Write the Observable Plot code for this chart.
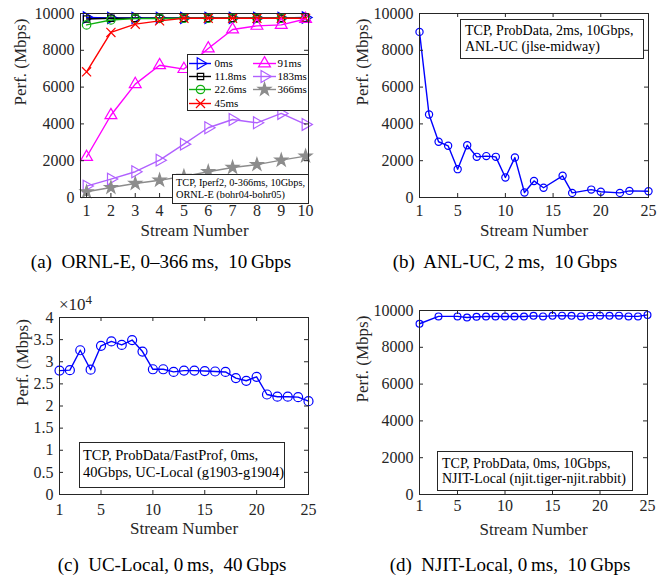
<!DOCTYPE html>
<html><head><meta charset="utf-8">
<script src="https://cdn.jsdelivr.net/npm/d3@7"></script>
<script src="https://cdn.jsdelivr.net/npm/@observablehq/plot@0.6"></script>
<style>
body{margin:0;background:#fff;}
#fig{position:relative;width:667px;height:579px;font-family:"Liberation Serif",serif;overflow:hidden;background:#fff}
#fig svg, #fig svg text{font-family:"Liberation Serif",serif !important;}
.box{position:absolute;border:1px solid #262626;background:#fff;color:#000;white-space:nowrap;box-sizing:border-box}
.cap{position:absolute;font-size:19px;color:#000;white-space:pre;transform:translate(-50%,-50%)}
.mult{position:absolute;font-size:17px;color:#262626;white-space:nowrap}
</style></head><body><div id="fig"></div>
<script>
// ---------- data ----------
// (a) ORNL-E
const streamsA = [1, 2, 3, 4, 5, 6, 7, 8, 9, 10];
const seriesNamesA = ["0ms", "11.8ms", "22.6ms", "45ms", "91ms", "183ms", "366ms"];
const perf0ms   = [9780, 9760, 9760, 9760, 9760, 9760, 9760, 9760, 9760, 9780];
const perf11_8ms= [9700, 9740, 9740, 9740, 9740, 9740, 9740, 9740, 9740, 9740];
const perf22_6ms= [9380, 9650, 9720, 9730, 9740, 9740, 9740, 9740, 9740, 9740];
const perf45ms  = [6830, 8970, 9420, 9600, 9740, 9740, 9740, 9740, 9740, 9740];
const perf91ms  = [2200, 4470, 6160, 7190, 6980, 8100, 9130, 9330, 9380, 9700];
const perf183ms = [620, 1000, 1400, 2030, 2900, 3790, 4240, 4060, 4570, 3970];
const perf366ms = [310, 540, 760, 940, 1150, 1400, 1630, 1790, 2030, 2250];
// (b) ANL-UC
const streamsB = [1, 2, 3, 4, 5, 6, 7, 8, 9, 10, 11, 12, 13, 14, 16, 17, 19, 20, 22, 23, 25];
const perfB = [9000, 4510, 3030, 2810, 1540, 2840, 2210, 2250, 2210, 1090, 2170, 270, 900, 530, 1180, 250, 430, 310, 250, 360, 340];
// (c) UC-Local
const streamsC = [1, 2, 3, 4, 5, 6, 7, 8, 9, 10, 11, 12, 13, 14, 15, 16, 17, 18, 19, 20, 21, 22, 23, 24, 25];
const perfC = [28000, 28100, 32600, 28200, 33600, 34600, 33800, 34900, 32300, 28300, 28300, 27700, 28000, 28000, 27900, 27800, 27700, 26300, 25700, 26600, 22600, 22100, 22100, 22000, 21100];
// (d) NJIT-Local
const streamsD = [1, 3, 5, 6, 7, 8, 9, 10, 11, 12, 13, 14, 15, 16, 17, 18, 19, 20, 21, 22, 23, 24, 25];
const perfD = [9280, 9680, 9680, 9620, 9660, 9670, 9670, 9680, 9670, 9670, 9710, 9680, 9710, 9720, 9710, 9680, 9720, 9720, 9710, 9720, 9680, 9680, 9760];
// ticks & text
const xTicksA = [1, 2, 3, 4, 5, 6, 7, 8, 9, 10];
const xTicks25 = [1, 5, 10, 15, 20, 25];
const yTicksMbps = [0, 2000, 4000, 6000, 8000, 10000];
const yTicksC = [0, 5000, 10000, 15000, 20000, 25000, 30000, 35000, 40000];
const xTitle = "Stream Number";
const yTitle = "Perf. (Mbps)";
const boxA = ["TCP, Iperf2, 0-366ms, 10Gbps,", "ORNL-E (bohr04-bohr05)"];
const boxB = ["TCP, ProbData, 2ms, 10Gbps,", "ANL-UC (jlse-midway)"];
const boxC = ["TCP, ProbData/FastProf, 0ms,", "40Gbps, UC-Local (g1903-g1904)"];
const boxD = ["TCP, ProbData, 0ms, 10Gbps,", "NJIT-Local (njit.tiger-njit.rabbit)"];
const captions = ["(a)  ORNL-E, 0–366\u2009ms,  10\u2009Gbps", "(b)  ANL-UC, 2\u2009ms,  10\u2009Gbps",
                  "(c)  UC-Local, 0\u2009ms,  40\u2009Gbps", "(d)  NJIT-Local, 0\u2009ms,  10\u2009Gbps"];

// ---------- helpers ----------
const INK = "#262626";
const FONT = "Liberation Serif";
const triRight = {draw(ctx, size) {
  const y = -Math.sqrt(size / (Math.sqrt(3) * 3)), s3 = Math.sqrt(3);
  ctx.moveTo(-2 * y, 0); ctx.lineTo(y, -s3 * y); ctx.lineTo(y, s3 * y); ctx.closePath();
}};
const styleA = [
  {color: "#0000ff", symbol: triRight, r: 4.2},
  {color: "#000000", symbol: "square", r: 3.6},
  {color: "#10b010", symbol: "circle", r: 4.2},
  {color: "#ff0000", symbol: "times", r: 4.2},
  {color: "#ff00ff", symbol: "triangle", r: 4.4},
  {color: "#b060ff", symbol: triRight, r: 4.4},
  {color: "#8c8c8c", symbol: "star", r: 4.0, fill: "#8c8c8c"}
];
const fig = document.getElementById("fig");
function place(el, left, top) { el.style.position = "absolute"; el.style.left = left + "px"; el.style.top = top + "px"; fig.appendChild(el); }

function panel(cfg) {
  const {width, height, mL, mR, mT, mB, xDomain, yDomain, xTicks, yTicks, yFmt, series, xLabelDy, yLabelDx, xPad} = cfg;
  const fw = width - mL - mR, fh = height - mT - mB, tl = 4;
  const marks = [];
  for (const s of series) {
    const data = s.x.map((x, i) => ({x, y: s.y[i]}));
    marks.push(Plot.line(data, {x: "x", y: "y", stroke: s.color, strokeWidth: 1.4}));
    marks.push(Plot.dot(data, {x: "x", y: "y", stroke: s.color, fill: s.fill || "none", symbol: s.symbol, r: s.r, strokeWidth: 1.2}));
  }
  return Plot.plot({
    width, height, marginLeft: mL, marginRight: mR, marginTop: mT, marginBottom: mB,
    style: {fontFamily: FONT, fontSize: "16px", color: INK, background: "transparent", overflow: "visible"},
    x: {domain: xDomain, label: null},
    y: {domain: yDomain, label: null},
    marks: [
      ...marks,
      Plot.frame({stroke: INK, strokeWidth: 1}),
      Plot.tickX(xTicks, {x: d => d, insetTop: fh - tl, stroke: INK}),
      Plot.tickX(xTicks, {x: d => d, insetBottom: fh - tl, stroke: INK}),
      Plot.tickY(yTicks, {y: d => d, insetRight: fw - tl, stroke: INK}),
      Plot.tickY(yTicks, {y: d => d, insetLeft: fw - tl, stroke: INK}),
      Plot.axisX(xTicks, {tickSize: 0, tickPadding: xPad, fontSize: 16, fontFamily: FONT, label: null}),
      Plot.axisY(yTicks, {tickSize: 0, tickPadding: 6, fontSize: 16, fontFamily: FONT, tickFormat: yFmt, label: null}),
      Plot.text([xTitle], {frameAnchor: "bottom", dy: xLabelDy, fontSize: 17, fontFamily: FONT, fill: INK}),
      Plot.text([yTitle], {frameAnchor: "left", dx: yLabelDx, rotate: -90, fontSize: 17, fontFamily: FONT, fill: INK})
    ]
  });
}
function textBox(lines, left, top, w, h, fs, lh, pad) {
  const d = document.createElement("div");
  d.className = "box";
  d.style.width = w + "px"; d.style.height = h + "px";
  d.style.fontSize = fs + "px"; d.style.lineHeight = lh + "px"; d.style.padding = pad;
  d.innerHTML = lines.map(t => `<div>${t}</div>`).join("");
  place(d, left, top);
}
const intFmt = d => String(d);

// (a)
const seriesA = [perf0ms, perf11_8ms, perf22_6ms, perf45ms, perf91ms, perf183ms, perf366ms]
  .map((y, i) => ({x: streamsA, y, ...styleA[i]}));
place(panel({width: 330, height: 250, mL: 80, mR: 22, mT: 13, mB: 53, xDomain: [0.75, 10.12], yDomain: [0, 10000],
  xTicks: xTicksA, yTicks: yTicksMbps, yFmt: intFmt, series: seriesA, xLabelDy: 38, yLabelDx: -60, xPad: 7}), 0, 0);

// legend (a)
{
  const lw = 121, lh = 56;
  const entries = seriesNamesA.map((name, i) => ({name, i, col: i < 4 ? 0 : 1, row: i < 4 ? i : i - 4}));
  const colX = [{x1: 2, x2: 24, m: 13, t: 27}, {x1: 66, x2: 89, m: 77, t: 90}];
  const rowY = [9, 22, 35, 49];
  const lm = [Plot.frame({stroke: INK, fill: "white"})];
  for (const e of entries) {
    const c = colX[e.col], st = styleA[e.i];
    const rec = [{x1: c.x1, x2: c.x2, xm: c.m, xt: c.t, y: rowY[e.row], name: e.name}];
    lm.push(Plot.ruleY(rec, {x1: "x1", x2: "x2", y: "y", stroke: st.color, strokeWidth: 1.4}));
    lm.push(Plot.dot(rec, {x: "xm", y: "y", symbol: st.symbol, r: st.r, stroke: st.color, fill: st.fill || "none", strokeWidth: 1.2}));
    lm.push(Plot.text(rec, {x: "xt", y: "y", text: "name", textAnchor: "start", fontSize: 11, fontFamily: FONT, fill: "#000"}));
  }
  place(Plot.plot({width: lw, height: lh, margin: 0, x: {type: "identity", axis: null}, y: {type: "identity", axis: null},
    style: {fontFamily: FONT, background: "transparent", overflow: "visible"}, marks: lm}), 187, 54);
}
textBox(boxA, 172, 174, 137, 30, 10.3, 12, "2px 3px");

// (b)
place(panel({width: 337, height: 250, mL: 89, mR: 19, mT: 13, mB: 53, xDomain: [1, 25], yDomain: [0, 10000],
  xTicks: xTicks25, yTicks: yTicksMbps, yFmt: intFmt,
  series: [{x: streamsB, y: perfB, color: "#0000ff", symbol: "circle", r: 3.6}], xLabelDy: 38, yLabelDx: -57, xPad: 7}), 330, 0);
textBox(boxB, 460, 19, 184, 40, 14, 16, "3px 4px");

// (c)
place(panel({width: 330, height: 260, mL: 59, mR: 22, mT: 27, mB: 56, xDomain: [1, 25], yDomain: [0, 40000],
  xTicks: xTicks25, yTicks: yTicksC, yFmt: d => String(d / 10000),
  series: [{x: streamsC, y: perfC, color: "#0000ff", symbol: "circle", r: 4.5}], xLabelDy: 39, yLabelDx: -37, xPad: 9}), 0, 290);
{
  const m = document.createElement("div"); m.className = "mult";
  m.innerHTML = "×10<sup style='font-size:13px;vertical-align:6px'>4</sup>";
  place(m, 59, 292);
}
textBox(boxC, 79, 442, 206, 46, 14.5, 17, "4px 3px");

// (d)
place(panel({width: 337, height: 260, mL: 89, mR: 20, mT: 20, mB: 56, xDomain: [1, 25], yDomain: [0, 10000],
  xTicks: xTicks25, yTicks: yTicksMbps, yFmt: intFmt,
  series: [{x: streamsD, y: perfD, color: "#0000ff", symbol: "circle", r: 3.4}], xLabelDy: 40, yLabelDx: -57, xPad: 5}), 330, 290);
textBox(boxD, 437, 451, 196, 40, 14, 15, "4px 4px");

// captions
const capPos = [[161, 262], [505, 262], [172, 565], [510, 565]];
captions.forEach((t, i) => { const c = document.createElement("div"); c.className = "cap"; c.textContent = t; place(c, capPos[i][0], capPos[i][1]); });
</script></body></html>
